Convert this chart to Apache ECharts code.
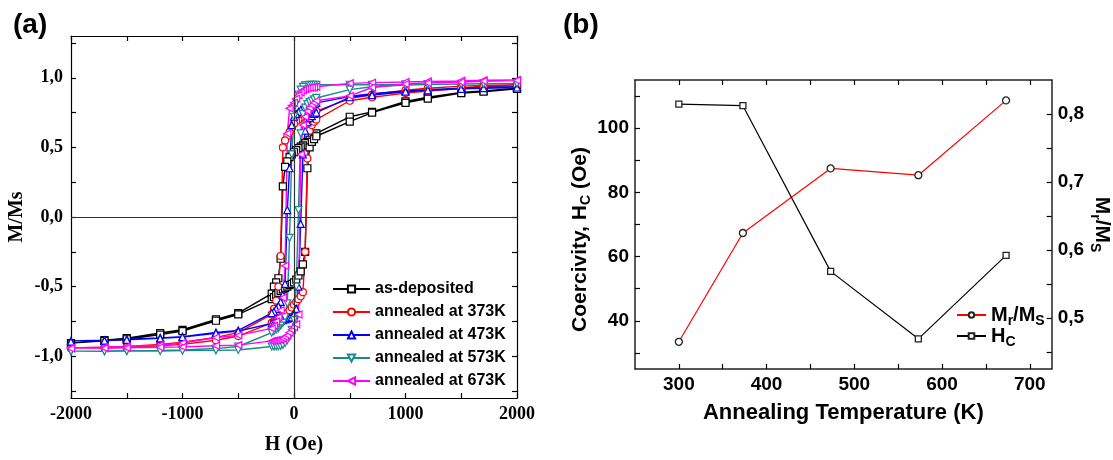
<!DOCTYPE html>
<html>
<head>
<meta charset="utf-8">
<title>Hysteresis loops and coercivity vs annealing temperature</title>
<script src="https://cdn.jsdelivr.net/npm/echarts@6/dist/echarts.min.js"></script>
<style>
  html, body { margin: 0; padding: 0; background: #fff; }
  #chart { width: 1113px; height: 460px; }
</style>
</head>
<body>
<div id="chart"></div>
<script>
// (a) applied field of the two loop branches, Oe
const hDown = [2000, 1700, 1500, 1200, 1000, 700, 500, 200, 180, 160, 140, 120, 100, 80, 60, 40, 20, 0, -20, -40, -60, -80, -100, -120, -140, -160, -180, -200, -500, -700, -1000, -1200, -1500, -1700, -2000];
const hUp = [-2000, -1700, -1500, -1200, -1000, -700, -500, -200, -180, -160, -140, -120, -100, -80, -60, -40, -20, 0, 20, 40, 60, 80, 100, 120, 140, 160, 180, 200, 500, 700, 1000, 1200, 1500, 1700, 2000];

// M/Ms, descending and ascending branch for each sample
const asDepDown = [0.925, 0.905, 0.895, 0.86, 0.83, 0.755, 0.72, 0.60, 0.585, 0.57, 0.555, 0.54, 0.53, 0.515, 0.505, 0.495, 0.48, 0.465, 0.45, 0.43, 0.40, 0.36, 0.22, -0.30, -0.44, -0.47, -0.50, -0.55, -0.69, -0.735, -0.81, -0.833, -0.87, -0.885, -0.905];
const asDepUp = [-0.91, -0.89, -0.878, -0.845, -0.82, -0.745, -0.70, -0.59, -0.575, -0.56, -0.545, -0.53, -0.52, -0.51, -0.50, -0.49, -0.48, -0.47, -0.45, -0.42, -0.39, -0.34, -0.25, 0.35, 0.50, 0.54, 0.56, 0.58, 0.685, 0.75, 0.82, 0.85, 0.89, 0.90, 0.92];
const k373Down = [0.95, 0.945, 0.94, 0.925, 0.91, 0.88, 0.85, 0.76, 0.75, 0.745, 0.74, 0.735, 0.73, 0.725, 0.715, 0.70, 0.69, 0.67, 0.64, 0.61, 0.58, 0.55, 0.50, -0.28, -0.50, -0.60, -0.66, -0.70, -0.83, -0.865, -0.90, -0.915, -0.93, -0.935, -0.94];
const k373Up = [-0.945, -0.94, -0.935, -0.925, -0.915, -0.885, -0.855, -0.76, -0.75, -0.74, -0.73, -0.72, -0.71, -0.70, -0.69, -0.67, -0.65, -0.63, -0.61, -0.59, -0.57, -0.54, -0.25, 0.42, 0.62, 0.66, 0.685, 0.70, 0.835, 0.86, 0.89, 0.905, 0.925, 0.935, 0.945];
const k473Down = [0.935, 0.93, 0.925, 0.915, 0.905, 0.885, 0.865, 0.82, 0.815, 0.81, 0.805, 0.80, 0.79, 0.78, 0.77, 0.755, 0.74, 0.72, 0.66, 0.35, 0.05, -0.48, -0.56, -0.61, -0.64, -0.66, -0.68, -0.69, -0.815, -0.83, -0.86, -0.868, -0.878, -0.885, -0.89];
const k473Up = [-0.895, -0.888, -0.882, -0.872, -0.862, -0.835, -0.82, -0.765, -0.76, -0.755, -0.75, -0.745, -0.74, -0.735, -0.73, -0.725, -0.72, -0.70, -0.66, -0.50, -0.05, 0.45, 0.62, 0.68, 0.71, 0.725, 0.74, 0.75, 0.86, 0.875, 0.90, 0.91, 0.92, 0.925, 0.93];
const k573Down = [0.96, 0.958, 0.956, 0.954, 0.952, 0.95, 0.95, 0.95, 0.95, 0.95, 0.95, 0.948, 0.945, 0.935, 0.915, 0.88, 0.82, 0.72, 0.45, -0.15, -0.62, -0.72, -0.76, -0.78, -0.80, -0.81, -0.82, -0.83, -0.93, -0.945, -0.955, -0.958, -0.96, -0.962, -0.963];
const k573Up = [-0.965, -0.965, -0.963, -0.962, -0.96, -0.958, -0.955, -0.93, -0.93, -0.93, -0.928, -0.925, -0.918, -0.905, -0.885, -0.855, -0.81, -0.74, -0.50, 0.05, 0.60, 0.74, 0.785, 0.81, 0.825, 0.835, 0.845, 0.855, 0.915, 0.935, 0.948, 0.952, 0.955, 0.957, 0.958];
const k673Down = [0.985, 0.982, 0.978, 0.974, 0.97, 0.965, 0.96, 0.935, 0.932, 0.93, 0.928, 0.925, 0.92, 0.91, 0.895, 0.875, 0.85, 0.82, 0.80, 0.78, 0.60, -0.35, -0.58, -0.67, -0.72, -0.75, -0.78, -0.80, -0.85, -0.865, -0.905, -0.92, -0.93, -0.935, -0.94];
const k673Up = [-0.945, -0.942, -0.94, -0.936, -0.933, -0.925, -0.92, -0.89, -0.888, -0.885, -0.882, -0.878, -0.872, -0.862, -0.85, -0.83, -0.81, -0.79, -0.77, -0.70, 0.45, 0.66, 0.72, 0.76, 0.785, 0.805, 0.82, 0.835, 0.87, 0.93, 0.955, 0.963, 0.97, 0.975, 0.98];

// (a) axis ticks
const fieldLabels = [-2000, -1000, 0, 1000, 2000];
const fieldTicks = [-2000, -1500, -1000, -500, 0, 500, 1000, 1500, 2000];
const momentLabels = [-1, -0.5, 0, 0.5, 1];
const momentTicks = [-1.25, -1, -0.75, -0.5, -0.25, 0, 0.25, 0.5, 0.75, 1, 1.25];

// (b) annealing temperature, coercivity and remanence ratio
const tempK = [300, 373, 473, 573, 673];
const coercivity = [107.5, 107, 55.4, 34.4, 60.4];
const remanence = [0.465, 0.625, 0.72, 0.71, 0.82];
const tempLabels = [300, 400, 500, 600, 700];
const tempTicks = [300, 350, 400, 450, 500, 550, 600, 650, 700];
const hcLabels = [40, 60, 80, 100];
const hcTicks = [30, 40, 50, 60, 70, 80, 90, 100, 110];
const ratioLabels = [0.5, 0.6, 0.7, 0.8];
const ratioTicks = [0.45, 0.5, 0.55, 0.6, 0.65, 0.7, 0.75, 0.8];

const samples = [
  { name: 'as-deposited', down: asDepDown, up: asDepUp, color: '#000000', symbol: 'rect', rotate: 0 },
  { name: 'annealed at 373K', down: k373Down, up: k373Up, color: '#ff0000', symbol: 'circle', rotate: 0 },
  { name: 'annealed at 473K', down: k473Down, up: k473Up, color: '#0000ff', symbol: 'triangle', rotate: 0 },
  { name: 'annealed at 573K', down: k573Down, up: k573Up, color: '#1a8b8b', symbol: 'triangle', rotate: 180 },
  { name: 'annealed at 673K', down: k673Down, up: k673Up, color: '#ff00ff', symbol: 'triangle', rotate: 90 }
];

const serif = { fontFamily: 'Liberation Serif', fontWeight: 'bold', color: '#000' };
const sans = { fontFamily: 'Liberation Sans', fontWeight: 'bold', color: '#000' };
const comma = v => v.toFixed(1).replace('.', ',');
const plain = v => String(v);

function loop(s) {
  const d = hDown.map((h, i) => [h, s.down[i]]);
  return d.concat(hUp.map((h, i) => [h, s.up[i]]));
}

function frameAxis(grid, pos, min, max, ticks, extra) {
  return Object.assign({
    type: 'value', gridIndex: grid, position: pos, min: min, max: max,
    axisLine: { show: true, onZero: false, lineStyle: { color: '#000', width: 1.2 } },
    axisTick: { inside: true, length: 5, customValues: ticks, lineStyle: { color: '#000', width: 1.2 } },
    axisLabel: { show: false },
    splitLine: { show: false }
  }, extra);
}

const loopSeries = samples.map(s => ({
  name: s.name,
  type: 'line',
  xAxisIndex: 0,
  yAxisIndex: 0,
  data: loop(s),
  symbol: s.symbol,
  symbolSize: 7,
  symbolRotate: s.rotate,
  z: 3,
  lineStyle: { color: s.color, width: 1.4 },
  itemStyle: { color: '#fff', borderColor: s.color, borderWidth: 1.2 }
}));

const bLine = { show: true, onZero: false, lineStyle: { color: '#222', width: 1.5 } };
const subRich = {
  a: Object.assign({ fontSize: 21, lineHeight: 21, verticalAlign: 'top' }, sans),
  s: Object.assign({ fontSize: 14, lineHeight: 14, padding: [10, 0, 0, 0], verticalAlign: 'top' }, sans)
};

const chart = echarts.init(document.getElementById('chart'));
chart.setOption({
  animation: false,
  backgroundColor: '#fff',
  title: [
    { text: '(a)', left: 8, top: 6, textStyle: Object.assign({ fontSize: 28 }, sans) },
    { text: '(b)', left: 558, top: 6, textStyle: Object.assign({ fontSize: 28 }, sans) }
  ],
  grid: [
    { left: 71, right: 596, top: 36, bottom: 62 },
    { left: 635, right: 60, top: 80, bottom: 91 }
  ],
  legend: [
    {
      orient: 'vertical', left: 327, top: 276,
      itemWidth: 37, itemHeight: 9, itemGap: 7,
      data: samples.map(s => s.name),
      textStyle: Object.assign({ fontSize: 16, lineHeight: 16 }, sans)
    },
    {
      orient: 'vertical', left: 951, top: 300,
      itemWidth: 29, itemHeight: 7, itemGap: -2,
      data: ['Mr/Ms', 'Hc'],
      formatter: n => n === 'Mr/Ms' ? '{m|M}{s|r}{m|/M}{s|S}' : '{m|H}{s|C}',
      textStyle: Object.assign({
        rich: {
          m: Object.assign({ fontSize: 20, lineHeight: 20, verticalAlign: 'top' }, sans),
          s: Object.assign({ fontSize: 14, lineHeight: 14, padding: [9, 0, 0, 0], verticalAlign: 'top' }, sans)
        }
      }, sans)
    }
  ],
  xAxis: [
    frameAxis(0, 'bottom', -2000, 2000, fieldTicks, {
      axisLabel: Object.assign({ customValues: fieldLabels, fontSize: 18, margin: 7, formatter: plain }, serif),
      name: 'H (Oe)', nameLocation: 'middle', nameGap: 37,
      nameTextStyle: Object.assign({ fontSize: 20 }, serif)
    }),
    frameAxis(0, 'top', -2000, 2000, fieldTicks),
    frameAxis(1, 'bottom', 250, 725, tempTicks, {
      axisLine: bLine,
      axisLabel: Object.assign({ customValues: tempLabels, fontSize: 19, margin: 6, formatter: plain }, sans),
      name: 'Annealing Temperature (K)', nameLocation: 'middle', nameGap: 33,
      nameTextStyle: Object.assign({ fontSize: 22 }, sans)
    }),
    frameAxis(1, 'top', 250, 725, tempTicks, { axisLine: bLine })
  ],
  yAxis: [
    frameAxis(0, 'left', -1.3, 1.3, momentTicks, {
      axisLabel: Object.assign({ customValues: momentLabels, fontSize: 18, margin: 8, formatter: comma }, serif),
      name: 'M/Ms', nameLocation: 'middle', nameGap: 44, nameRotate: 90,
      nameTextStyle: Object.assign({ fontSize: 20 }, serif)
    }),
    frameAxis(0, 'right', -1.3, 1.3, momentTicks),
    frameAxis(1, 'left', 25, 115, hcTicks, {
      axisLine: bLine,
      axisLabel: Object.assign({ customValues: hcLabels, fontSize: 19, margin: 6, formatter: plain }, sans),
      name: '{a|Coercivity, H}{s|C}{a| (Oe)}', nameLocation: 'middle', nameGap: 44, nameRotate: 90,
      nameTextStyle: Object.assign({ padding: [0, 30, 0, 0], rich: subRich }, sans)
    }),
    frameAxis(1, 'right', 0.425, 0.85, ratioTicks, {
      axisLine: bLine,
      axisLabel: Object.assign({ customValues: ratioLabels, fontSize: 19, margin: 6, formatter: comma }, sans),
      name: '{a|M}{s|r}{a|/M}{s|S}', nameLocation: 'middle', nameGap: 38, nameRotate: -90,
      nameTextStyle: Object.assign({ rich: subRich }, sans)
    })
  ],
  series: [
    {
      // zero lines of panel (a)
      type: 'line', xAxisIndex: 0, yAxisIndex: 0, data: [], z: 1,
      markLine: {
        silent: true, symbol: 'none', label: { show: false },
        lineStyle: { color: '#333', width: 1.2, type: 'solid' },
        data: [{ xAxis: 0 }, { yAxis: 0 }]
      }
    }
  ].concat(loopSeries, [
    {
      name: 'Mr/Ms', type: 'line', xAxisIndex: 2, yAxisIndex: 3,
      data: tempK.map((t, i) => [t, remanence[i]]),
      symbol: 'circle', symbolSize: 7,
      lineStyle: { color: '#ff0000', width: 1.2 },
      itemStyle: { color: '#fff', borderColor: '#222', borderWidth: 1.3 }
    },
    {
      name: 'Hc', type: 'line', xAxisIndex: 2, yAxisIndex: 2,
      data: tempK.map((t, i) => [t, coercivity[i]]),
      symbol: 'rect', symbolSize: 6,
      lineStyle: { color: '#000', width: 1.2 },
      itemStyle: { color: '#fff', borderColor: '#222', borderWidth: 1.3 }
    }
  ])
});
</script>
</body>
</html>
